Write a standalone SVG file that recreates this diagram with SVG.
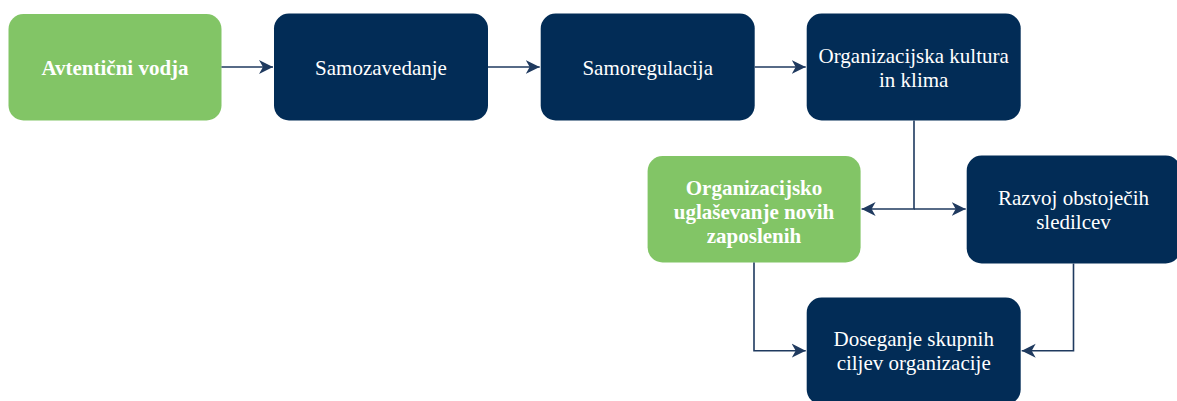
<svg xmlns="http://www.w3.org/2000/svg" width="1177" height="401" viewBox="0 0 1177 401">
<style>
.g{fill:#82C566}
.d{fill:#022C56}
.t{font-family:"Liberation Serif","Times New Roman",serif;font-size:21px;fill:#fff;text-anchor:middle}
.b{font-weight:bold}
.c{fill:none;stroke:#1F3A5F;stroke-width:1.6}
</style>
<defs>
<marker id="a" markerUnits="userSpaceOnUse" markerWidth="16" markerHeight="16" refX="14" refY="8" orient="auto">
<path d="M0,1 L14,8 L0,15 L4,8 Z" fill="#1F3A5F"/>
</marker>
</defs>
<g id="n1"><rect class="g" x="8.5" y="14" width="213" height="106.5" rx="15"/><text class="t b" x="115" y="75">Avtentični vodja</text></g>
<g id="n2"><rect class="d" x="274" y="13.5" width="214" height="107" rx="15"/><text class="t" x="381" y="75">Samozavedanje</text></g>
<g id="n3"><rect class="d" x="540.7" y="13.5" width="214" height="107" rx="15"/><text class="t" x="647.7" y="75">Samoregulacija</text></g>
<g id="n4"><rect class="d" x="806.7" y="13.5" width="214" height="107" rx="15"/><text class="t" x="913.7" y="63">Organizacijska kultura</text><text class="t" x="913.7" y="87">in klima</text></g>
<g id="n5"><rect class="g" x="647.6" y="156" width="213" height="106.5" rx="15"/><text class="t b" x="754" y="194.5">Organizacijsko</text><text class="t b" x="754" y="218.5">uglaševanje novih</text><text class="t b" x="754" y="242.5">zaposlenih</text></g>
<g id="n6"><rect class="d" x="966.7" y="155.5" width="214" height="108" rx="15"/><text class="t" x="1073.5" y="205">Razvoj obstoječih</text><text class="t" x="1073.5" y="229">sledilcev</text></g>
<g id="n7"><rect class="d" x="806.7" y="297.5" width="214" height="107" rx="15"/><text class="t" x="913.7" y="346">Doseganje skupnih</text><text class="t" x="913.7" y="370">ciljev organizacije</text></g>
<g id="connectors">
<path class="c" d="M221.5,67 H273" marker-end="url(#a)"/>
<path class="c" d="M488,67 H539.7" marker-end="url(#a)"/>
<path class="c" d="M754.7,67 H805.7" marker-end="url(#a)"/>
<path class="c" d="M914,120.5 V209 H861.6" marker-end="url(#a)"/>
<path class="c" d="M914,209 H965.7" marker-end="url(#a)"/>
<path class="c" d="M754,262.5 V350.7 H805.7" marker-end="url(#a)"/>
<path class="c" d="M1073.5,263.5 V350.7 H1021.7" marker-end="url(#a)"/>
</g>
</svg>
